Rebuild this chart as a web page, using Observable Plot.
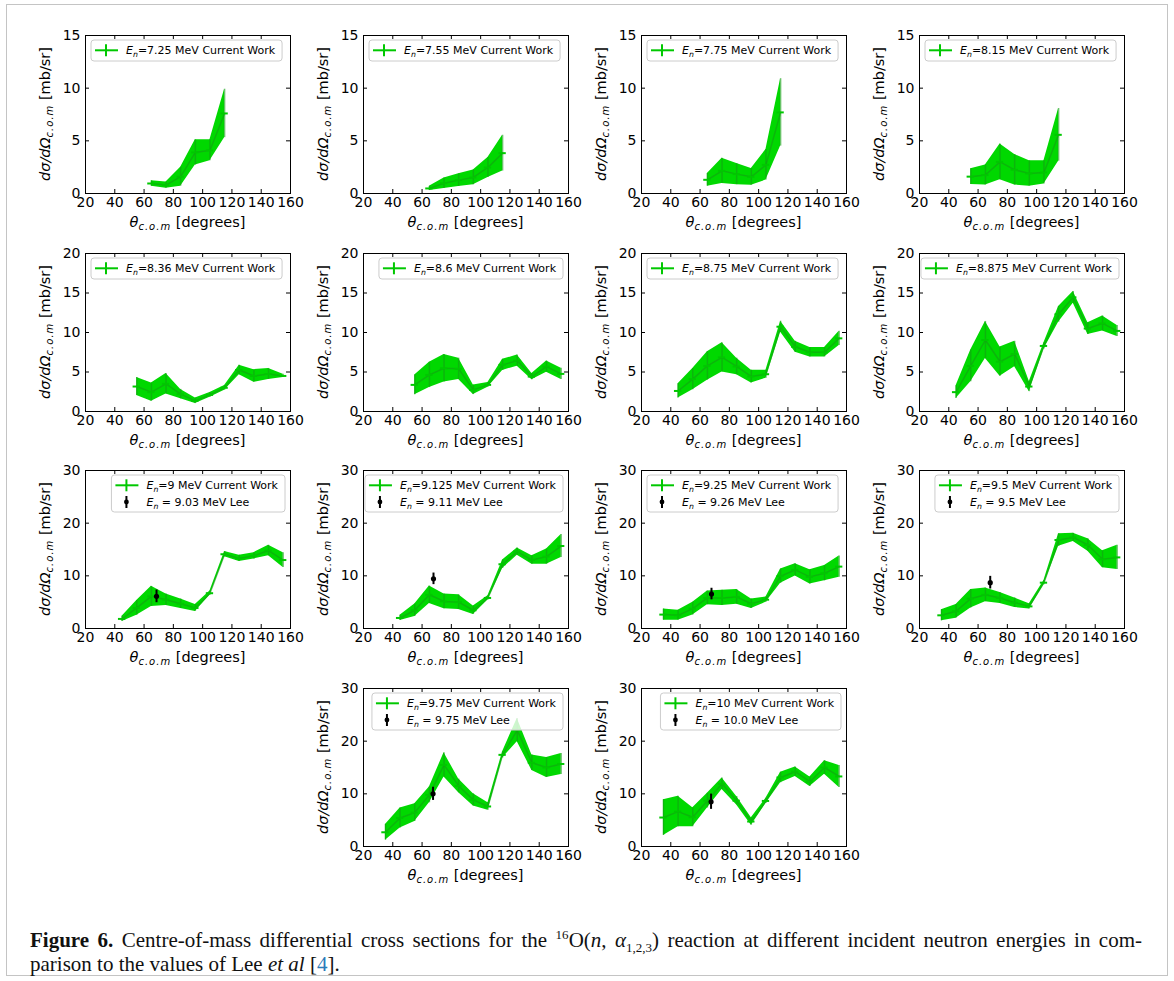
<!DOCTYPE html>
<html>
<head>
<meta charset="utf-8">
<script src="https://cdn.jsdelivr.net/npm/d3@7"></script>
<script src="https://cdn.jsdelivr.net/npm/@observablehq/plot@0.6"></script>
<style>
  html, body { margin: 0; padding: 0; background: #fff; }
  #fig { position: relative; width: 1174px; height: 981px; overflow: hidden; font-family: "DejaVu Sans", sans-serif; }
  #border { position: absolute; left: 6px; top: 4px; width: 1162px; height: 972px; border: 1px solid #c4c4c4; box-sizing: border-box; }
  .panel { position: absolute; }
  #caption { position: absolute; left: 30px; top: 928px; width: 1112px; font-family: "Liberation Serif", "DejaVu Serif", serif; font-size: 21px; line-height: 24px; color: #111; }
  #caption .l1 { text-align: justify; text-align-last: justify; }
  #caption sup, #caption sub { font-size: 0.62em; line-height: 0; }
</style>
</head>
<body>
<div id="fig">
  <div id="border"></div>
  <div id="caption">
    <div class="l1"><b>Figure 6.</b> Centre-of-mass differential cross sections for the <sup>16</sup>O(<i>n</i>, <i>α</i><sub>1,2,3</sub>) reaction at different incident neutron energies in com-</div>
    <div>parison to the values of Lee <i>et al</i> [<span style="color:#2b7bb9">4</span>].</div>
  </div>
</div>
<script>
// ---------- data ----------
const XERR = 2.5; // horizontal (angular bin) error in degrees
const xTicks = [20, 40, 60, 80, 100, 120, 140, 160];
const yTicks15 = [0, 5, 10, 15];
const yTicks20 = [0, 5, 10, 15, 20];
const yTicks30 = [0, 10, 20, 30];

const theta65 = [65, 75, 85, 95, 105, 115];
const theta55s = [55, 65, 75, 85, 95, 105, 115];
const theta55 = [55, 65, 75, 85, 95, 105, 115, 125, 135, 145, 155];
const theta45 = [45, 55, 65, 75, 85, 95, 105, 115, 125, 135, 145, 155];
const theta35 = [35, 45, 55, 65, 75, 85, 95, 105, 115, 125, 135, 145, 155];

const energies = ["7.25", "7.55", "7.75", "8.15", "8.36", "8.6", "8.75", "8.875", "9", "9.125", "9.25", "9.5", "9.75", "10"];

const xs725 = [0.95, 0.8, 1.6, 3.9, 4.1, 7.6];
const err725 = [0.25, 0.3, 0.9, 1.2, 1.0, 2.3];
const xs755 = [0.48, 0.98, 1.27, 1.52, 2.47, 3.83];
const err755 = [0.2, 0.5, 0.6, 0.7, 0.95, 1.7];
const xs775 = [1.3, 2.15, 1.84, 1.58, 2.72, 7.7];
const err775 = [0.6, 1.2, 1.0, 0.8, 1.45, 3.2];
const xs815 = [1.6, 1.75, 3.0, 2.25, 1.9, 2.0, 5.57];
const err815 = [0.75, 0.95, 1.7, 1.45, 1.2, 1.1, 2.5];
const xs836 = [3.16, 2.45, 3.5, 2.2, 1.35, 2.1, 3.0, 5.25, 4.5, 4.75, 4.5];
const err836 = [1.15, 1.15, 1.3, 0.6, 0.35, 0.3, 0.3, 0.6, 0.8, 0.7, 0.2];
const xs860 = [3.37, 4.63, 5.48, 5.4, 2.74, 3.37, 5.9, 6.44, 4.42, 5.68, 4.76];
const err860 = [1.25, 1.6, 1.75, 1.35, 0.6, 0.3, 0.7, 0.7, 0.4, 0.7, 0.7];
const xs875 = [2.6, 4.1, 5.77, 6.86, 5.7, 4.42, 4.72, 10.73, 8.2, 7.5, 7.5, 9.26];
const err875 = [0.9, 1.35, 1.8, 1.85, 1.05, 0.8, 0.5, 0.7, 0.7, 0.6, 0.6, 0.9];
const xs8875 = [2.45, 5.77, 9.05, 6.3, 7.28, 3.16, 8.3, 12.3, 14.45, 10.5, 11.15, 10.2];
const err8875 = [0.8, 2.0, 2.35, 1.85, 1.6, 0.65, 0.4, 1.0, 0.75, 0.75, 0.95, 0.7];
const xs900 = [1.82, 3.9, 6.1, 5.47, 4.7, 3.9, 6.7, 14.1, 13.3, 13.8, 14.8, 13.0];
const err900 = [0.5, 1.4, 1.9, 1.1, 0.9, 0.65, 0.4, 0.5, 0.6, 0.6, 1.0, 1.4];
const xs9125 = [2.0, 3.46, 6.4, 5.15, 5.0, 3.46, 5.8, 12.2, 14.6, 13.0, 13.65, 15.66];
const err9125 = [0.5, 1.2, 1.65, 1.4, 1.4, 0.8, 0.4, 0.8, 0.7, 0.8, 1.45, 2.2];
const xs925 = [2.64, 2.5, 3.77, 5.8, 5.8, 6.0, 4.7, 5.47, 9.93, 11.13, 9.8, 10.5, 11.75];
const err925 = [1.05, 0.95, 1.2, 1.3, 1.45, 1.4, 0.9, 0.5, 1.35, 1.15, 1.35, 1.45, 2.0];
const xs950 = [2.5, 3.27, 5.66, 6.4, 5.8, 4.9, 4.2, 8.7, 16.8, 17.3, 15.85, 13.15, 13.5];
const err950 = [1.05, 1.3, 1.75, 1.3, 1.05, 0.9, 0.5, 0.4, 1.2, 0.8, 1.2, 1.6, 2.3];
const xs975 = [2.7, 5.4, 6.44, 9.8, 15.5, 11.5, 8.85, 7.6, 17.4, 22.1, 15.9, 15.0, 15.67];
const err975 = [1.5, 1.9, 1.7, 1.5, 2.3, 1.3, 1.15, 0.7, 0.6, 2.2, 1.45, 1.9, 2.0];
const xs1000 = [5.5, 6.63, 5.56, 8.7, 11.9, 8.7, 4.74, 8.65, 13.1, 14.2, 12.3, 15.0, 13.3];
const err1000 = [3.4, 2.9, 1.8, 1.4, 1.1, 0.8, 0.7, 0.5, 1.0, 0.9, 0.9, 1.3, 2.1];

const leeEnergies = ["9.03", "9.11", "9.26", "9.5", "9.75", "10.0"];
const leeTheta = [68.5, 67.8, 67.8, 68.3, 67.5, 67.5];
const leeXs = [6.1, 9.43, 6.54, 8.7, 10.0, 8.5];
const leeErr = [1.2, 1.1, 1.1, 1.2, 1.25, 1.45];

// ---------- layout ----------
const panels = [
  {e: 0, theta: theta65, xs: xs725, err: err725, row: 0, col: 0, ymax: 15, yt: yTicks15, lee: null, anchor: "left"},
  {e: 1, theta: theta65, xs: xs755, err: err755, row: 0, col: 1, ymax: 15, yt: yTicks15, lee: null, anchor: "left"},
  {e: 2, theta: theta65, xs: xs775, err: err775, row: 0, col: 2, ymax: 15, yt: yTicks15, lee: null, anchor: "left"},
  {e: 3, theta: theta55s, xs: xs815, err: err815, row: 0, col: 3, ymax: 15, yt: yTicks15, lee: null, anchor: "left"},
  {e: 4, theta: theta55, xs: xs836, err: err836, row: 1, col: 0, ymax: 20, yt: yTicks20, lee: null, anchor: "left"},
  {e: 5, theta: theta55, xs: xs860, err: err860, row: 1, col: 1, ymax: 20, yt: yTicks20, lee: null, anchor: "right"},
  {e: 6, theta: theta45, xs: xs875, err: err875, row: 1, col: 2, ymax: 20, yt: yTicks20, lee: null, anchor: "left"},
  {e: 7, theta: theta45, xs: xs8875, err: err8875, row: 1, col: 3, ymax: 20, yt: yTicks20, lee: null, anchor: "right"},
  {e: 8, theta: theta45, xs: xs900, err: err900, row: 2, col: 0, ymax: 30, yt: yTicks30, lee: 0, anchor: "right"},
  {e: 9, theta: theta45, xs: xs9125, err: err9125, row: 2, col: 1, ymax: 30, yt: yTicks30, lee: 1, anchor: "right"},
  {e: 10, theta: theta35, xs: xs925, err: err925, row: 2, col: 2, ymax: 30, yt: yTicks30, lee: 2, anchor: "left"},
  {e: 11, theta: theta35, xs: xs950, err: err950, row: 2, col: 3, ymax: 30, yt: yTicks30, lee: 3, anchor: "right"},
  {e: 12, theta: theta35, xs: xs975, err: err975, row: 3, col: 1, ymax: 30, yt: yTicks30, lee: 4, anchor: "right"},
  {e: 13, theta: theta35, xs: xs1000, err: err1000, row: 3, col: 2, ymax: 30, yt: yTicks30, lee: 5, anchor: "right"}
];

const colLeft = [85, 363, 641, 919];
const rowTop = [35, 253.3, 470, 688.3];
const ML = 65, MR = 18, MT = 12, MB = 50, FW = 205, FH = 158;
const W = ML + FW + MR, H = MT + FH + MB;
const BAND = "#00d800", LINE = "#149e14", CAP = "#00c800";

const fig = document.getElementById("fig");

panels.forEach(p => {
  const data = p.theta.map((t, i) => ({t, y: p.xs[i], e: p.err[i]}));
  const leeData = p.lee == null ? [] : [{t: leeTheta[p.lee], y: leeXs[p.lee], e: leeErr[p.lee]}];
  const tly = p.ymax * 4 / FH, tlx = 140 * 4 / FW;
  const svg = Plot.plot({
    width: W, height: H,
    marginLeft: ML, marginRight: MR, marginTop: MT, marginBottom: MB,
    style: {fontFamily: "DejaVu Sans", fontSize: "14px", color: "#000", background: "transparent", overflow: "visible", maxWidth: "none"},
    x: {domain: [20, 160], ticks: xTicks, tickSize: 0, tickPadding: 4, label: null},
    y: {domain: [0, p.ymax], ticks: p.yt, tickSize: 0, tickPadding: 5, label: null},
    marks: [
      Plot.areaY(data, {x: "t", y1: d => d.y - d.e, y2: d => d.y + d.e, fill: BAND}),
      Plot.line(data, {x: "t", y: "y", stroke: LINE, strokeWidth: 1.5, strokeOpacity: 0.6}),
      Plot.ruleX(data, {x: "t", y1: d => d.y - d.e, y2: d => d.y + d.e, stroke: LINE, strokeWidth: 1.5, strokeOpacity: 0.6}),
      Plot.ruleY(data, {y: "y", x1: d => d.t - XERR, x2: d => d.t + XERR, stroke: CAP, strokeWidth: 2}),
      Plot.ruleX(leeData, {x: "t", y1: d => d.y - d.e, y2: d => d.y + d.e, stroke: "#000", strokeWidth: 2}),
      Plot.dot(leeData, {x: "t", y: "y", r: 2.6, fill: "#000"}),
      Plot.ruleX(xTicks, {x: d => d, y1: 0, y2: tly, stroke: "#000"}),
      Plot.ruleX(xTicks, {x: d => d, y1: p.ymax - tly, y2: p.ymax, stroke: "#000"}),
      Plot.ruleY(p.yt, {y: d => d, x1: 20, x2: 20 + tlx, stroke: "#000"}),
      Plot.ruleY(p.yt, {y: d => d, x1: 160 - tlx, x2: 160, stroke: "#000"}),
      Plot.frame({stroke: "#000", strokeWidth: 1})
    ]
  });
  const wrap = document.createElement("div");
  wrap.className = "panel";
  wrap.style.left = (colLeft[p.col] - ML) + "px";
  wrap.style.top = (rowTop[p.row] - MT) + "px";
  wrap.style.width = W + "px";
  wrap.style.height = H + "px";
  wrap.appendChild(svg);
  fig.appendChild(wrap);

  const s = d3.select(svg);
  const g = s.append("g").attr("font-family", "DejaVu Sans").attr("fill", "#000");

  // x label
  const xl = g.append("text").attr("x", ML + FW / 2).attr("y", MT + FH + 34)
    .attr("text-anchor", "middle").attr("font-size", 14.5);
  xl.append("tspan").attr("font-style", "italic").text("θ");
  xl.append("tspan").attr("font-style", "italic").attr("font-size", 10).attr("dy", 3).attr("letter-spacing", 1).text("c.o.m");
  xl.append("tspan").attr("dy", -3).text(" [degrees]");

  // y label
  const yl = g.append("text").attr("transform", `translate(${ML - 35},${MT + FH / 2}) rotate(-90)`)
    .attr("text-anchor", "middle").attr("font-size", 14.5);
  yl.append("tspan").attr("font-style", "italic").text("dσ/dΩ");
  yl.append("tspan").attr("font-style", "italic").attr("font-size", 10).attr("dy", 3).attr("letter-spacing", 1).text("c.o.m");
  yl.append("tspan").attr("dy", -3).text(" [mb/sr]");

  // legend
  const entries = [{type: "cw", rest: "=" + energies[p.e] + " MeV Current Work"}];
  if (p.lee != null) entries.push({type: "lee", rest: " = " + leeEnergies[p.lee] + " MeV Lee"});
  const lg = g.append("g").attr("text-anchor", "start");
  const box = lg.append("rect");
  let maxW = 0;
  const top = MT + 5;
  const rowsY = [top + 10.3, top + 27];
  const texts = entries.map((en, i) => {
    const t = lg.append("text").attr("y", rowsY[i] + 4).attr("font-size", 11).attr("text-anchor", "start");
    t.append("tspan").attr("font-style", "italic").text("E");
    t.append("tspan").attr("font-style", "italic").attr("font-size", 7.8).attr("dy", 2.5).text("n");
    t.append("tspan").attr("dy", -2.5).text(en.rest);
    maxW = Math.max(maxW, t.node().getComputedTextLength());
    return t;
  });
  const bw = 35 + maxW + 7;
  const bh = entries.length === 1 ? 21 : 37;
  const bx = p.anchor === "left" ? ML + 6 : ML + FW - 5 - bw;
  box.attr("x", bx).attr("y", top).attr("width", bw).attr("height", bh)
    .attr("rx", 3).attr("fill", "#fff").attr("fill-opacity", 0.8).attr("stroke", "#cccccc").attr("stroke-width", 1);
  texts.forEach(t => t.attr("x", bx + 35));
  entries.forEach((en, i) => {
    const cy = rowsY[i], cx = bx + 15;
    if (en.type === "cw") {
      lg.append("line").attr("x1", bx + 4).attr("x2", bx + 27).attr("y1", cy).attr("y2", cy).attr("stroke", CAP).attr("stroke-width", 2);
      lg.append("line").attr("x1", cx).attr("x2", cx).attr("y1", cy - 6).attr("y2", cy + 6).attr("stroke", CAP).attr("stroke-width", 2);
    } else {
      lg.append("line").attr("x1", cx).attr("x2", cx).attr("y1", cy - 6).attr("y2", cy + 6).attr("stroke", "#000").attr("stroke-width", 2);
      lg.append("circle").attr("cx", cx).attr("cy", cy).attr("r", 2.4).attr("fill", "#000");
    }
  });
});
</script>
</body>
</html>
